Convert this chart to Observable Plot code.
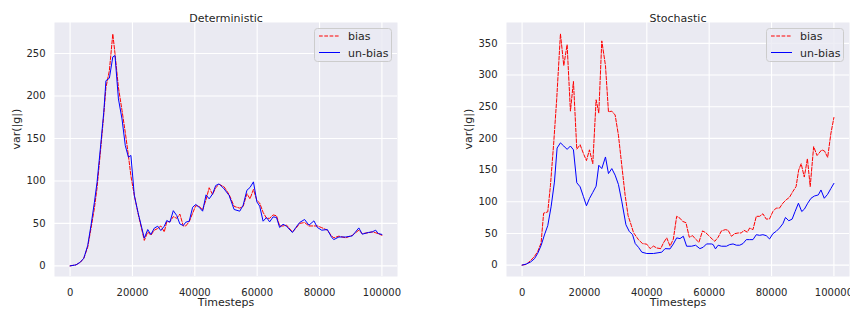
<!DOCTYPE html>
<html><head><meta charset="utf-8">
<script src="https://cdn.jsdelivr.net/npm/d3@7"></script>
<script src="https://cdn.jsdelivr.net/npm/@observablehq/plot@0.6"></script>
<style>
body{margin:0;background:#fff;overflow:hidden;font-family:"DejaVu Sans",sans-serif;}
#wrap{position:relative;width:850px;height:313px;overflow:hidden;}
.panel{position:absolute;top:0;width:425px;height:313px;}
.legend{position:absolute;top:28px;}
</style>
</head><body>
<div id="wrap"></div>
<script>
// ---------- data ----------
const xTicks = [0, 20000, 40000, 60000, 80000, 100000];
const yTicksDet = [0, 50, 100, 150, 200, 250];
const yTicksSto = [0, 50, 100, 150, 200, 250, 300, 350];
const seriesNames = ["bias", "un-bias"];
const titles = ["Deterministic", "Stochastic"];

const tDet = [0,1900,3300,4400,5650,6700,7800,8650,9700,10800,11500,12600,13700,14400,15500,16650,17700,18700,19500,20600,21900,23800,24900,25900,27000,28100,29100,30200,31000,32000,33100,34200,35200,36300,37100,38200,39300,40300,41400,42500,43600,44600,45700,46700,47800,49400,51000,52600,54400,55500,56700,57700,58800,59900,60800,61900,63000,64000,65100,66200,67200,68300,69400,71300,72400,73600,75200,76600,78200,79300,80700,82500,83900,84600,86200,88400,90500,92600,93700,95600,96900,98000,98800,100000];
const detUnbias = [0,1.2,4.4,9,24,47.5,75,98.5,137.7,181,218,221,246,247.6,196.6,173,141.7,128,130,83,61,32.6,42.8,37,44.4,46.7,41.6,46.7,53.4,51.4,65,59.3,49.4,47.5,51.4,52.6,69,72.3,69,64.4,83.6,78.9,84.7,94.6,96.5,90.6,82.9,66.4,64.4,71.4,89,92.3,98.9,75.3,70.3,52.6,57,51.8,57.7,57,45.2,49,46.7,39.3,45.2,51,54.6,47.9,53,45.2,42,42.8,33.4,31,34,34,35.3,44.7,37.3,39.3,40,42,38.1,37];
const detBias = [0,1.2,4.4,9,22,44,68,92,133,178,210,230,273,250,210,183,157,130,106,83,60,30,40,36,42,44,47,40,52,52,58,56,61,47,47,52,62,71,70,66,78,92,84,92,96,93,84,70,68,70,85,79,90,77,74,63,56,56,60,59,47,47,48,40,44,50,51,47,47,47,45,42,35,33,35,33,36,42,38,39,40,39,38,36];

const tStoUnbias = [0,1280,2670,3960,5030,6100,7160,8230,9300,10370,11230,12300,13370,14440,15500,16470,17540,18610,19680,20640,21600,22670,23740,24600,25560,26740,27700,28770,29840,30900,32000,33300,34360,35430,36280,37340,38400,40000,42130,44790,45850,47450,48510,49570,50640,51700,52770,54360,55640,57020,58090,59150,60740,61280,62020,62870,63940,65530,66600,67660,68720,69790,70850,71910,72980,74040,75110,76170,77230,78300,79360,80430,81490,82550,83620,84470,85530,86600,87550,88620,89680,90530,91600,92660,93720,95000,95850,96910,97980,99040,100000];
const stoUnbias = [0,1.6,4.7,10,18.8,31,47.6,62.3,92,131,184.8,193,188,182.7,188,182,130,123.6,108,93.7,105,114.7,124.6,157.6,152.4,170.7,144.5,152.4,142,127.2,100,63.7,53.3,48,34,28,20.4,18.3,18.3,20.4,26,25.6,33.4,43,41.8,45.5,29.8,29.8,31.4,26,28.2,33.4,33.4,32.4,25.6,31.4,29.8,29.8,32.4,33.4,31.4,31.4,34,40.2,40.2,40.2,48,47,48,46.5,41.3,49.6,53.3,58.5,65.3,75.2,70,72.6,84.6,97.7,84.6,88.3,97.7,105.5,109,110.8,118.6,105.5,111.8,121,129];

const tStoBias = [0,1280,2670,3960,5030,6100,6900,8230,9100,10100,11100,12300,13370,14440,15500,16470,17540,18610,19680,20640,21600,22670,23740,24600,25560,26740,27700,28770,29840,30900,31980,33050,34000,35000,35750,37340,38620,40000,41060,42130,43190,44470,45320,46380,47450,48510,49570,50640,51490,52550,53620,54680,55640,56700,57870,58940,59890,60960,61810,62870,63940,65210,66060,67130,68190,69260,70320,71170,72230,72980,74040,75110,76170,77230,78300,79360,80430,81490,82550,83620,84680,85740,86810,87870,88700,89500,90500,91500,92400,93500,94600,96100,97000,98000,99000,100000];
const stoBias = [0,1,6.8,13.6,21.5,35,82,84,126,190,262,365,315,348,243,290,183,190,176,165,182,160,261,240,354,315,242,243,237,205,157,110,78,63,51,40,34,33,26,30,27,26,35,43,30,41,77,74,69,67,44,46.5,41,36,54,51,46.5,41,37.6,44,54,56,55,45.5,49.6,50.7,50.7,55,52,58.5,56,77,77,81,72.6,73,84.6,90,90,97.7,103,107,116,124,150,160,139,168,124,187,173,182,180,170,207,233];

// ---------- drawing ----------
const wrap = document.getElementById("wrap");
const pack = (ts, vs) => ts.map((t, i) => ({t, v: vs[i]}));

function panel({title, tB, vB, tU, vU, yDomain, yTicks, ml, mr, left}) {
  const svg = Plot.plot({
    width: 425, height: 313,
    marginLeft: ml, marginRight: mr, marginTop: 22, marginBottom: 37,
    style: {fontFamily: "DejaVu Sans", fontSize: "10px", color: "#262626", background: "transparent", overflow: "visible"},
    x: {domain: [-5000, 105000], ticks: xTicks, tickFormat: d => String(d), tickSize: 0, tickPadding: 12, label: null},
    y: {domain: yDomain, ticks: yTicks, tickFormat: d => String(d), tickSize: 0, tickPadding: 9, label: null},
    marks: [
      Plot.frame({fill: "#EAEAF2", stroke: null}),
      Plot.ruleX(xTicks, {stroke: "white", strokeWidth: 1.1}),
      Plot.ruleY(yTicks, {stroke: "white", strokeWidth: 1.1}),
      Plot.line(pack(tB, vB), {x: "t", y: "v", stroke: "#ff0000", strokeWidth: 1, strokeDasharray: "3.7,1.6"}),
      Plot.line(pack(tU, vU), {x: "t", y: "v", stroke: "#0000ff", strokeWidth: 1}),
      Plot.text([title], {text: d => d, frameAnchor: "top", dy: -8.5, fontSize: 11, fill: "#262626"}),
      Plot.text(["Timesteps"], {text: d => d, frameAnchor: "bottom", dy: 29.5, fontSize: 11, fill: "#262626"}),
      Plot.text(["var(|g|)"], {text: d => d, frameAnchor: "left", dx: -38, rotate: -90, fontSize: 11, fill: "#262626"})
    ]
  });
  const div = document.createElement("div");
  div.className = "panel";
  div.style.left = left + "px";
  div.appendChild(svg);
  wrap.appendChild(div);
}

function legend(left) {
  const d = document.createElement("div");
  d.className = "legend";
  d.style.left = left + "px";
  d.innerHTML = `<svg width="78" height="34" style="display:block;font-family:'DejaVu Sans';">
    <rect x="0.5" y="0.5" width="77" height="33" rx="3" fill="#EAEAF2" fill-opacity="0.8" stroke="#cccccc"/>
    <line x1="5" x2="26" y1="8" y2="8" stroke="#ff0000" stroke-width="1" stroke-dasharray="3.7,1.6"/>
    <line x1="5" x2="26" y1="24.5" y2="24.5" stroke="#0000ff" stroke-width="1"/>
    <text x="34" y="12" font-size="11" fill="#262626">${seriesNames[0]}</text>
    <text x="34" y="28.5" font-size="11" fill="#262626">${seriesNames[1]}</text>
  </svg>`;
  wrap.appendChild(d);
}

panel({title: titles[0], tB: tDet, vB: detBias, tU: tDet, vU: detUnbias,
  yDomain: [-12.5, 286.5], yTicks: yTicksDet, ml: 54, mr: 28, left: 0});
panel({title: titles[1], tB: tStoBias, vB: stoBias, tU: tStoUnbias, vU: stoUnbias,
  yDomain: [-18, 383], yTicks: yTicksSto, ml: 81, mr: 1, left: 425});
legend(314);
legend(766);
</script>
</body></html>
